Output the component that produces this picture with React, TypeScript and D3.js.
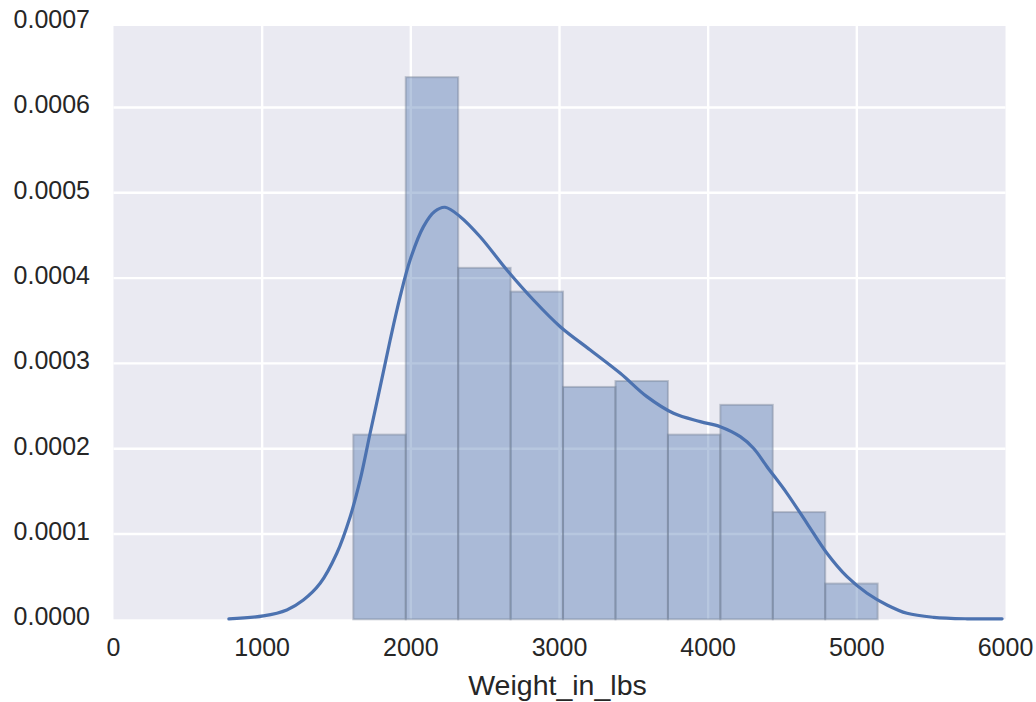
import React from "react";
import * as d3 from "d3";

// Histogram bin edges (lbs) and density heights
const binEdges = [1613, 1965.7, 2318.4, 2671.1, 3023.8, 3376.5, 3729.2, 4081.9, 4434.6, 4787.3, 5140];
const binDensity = [0.0002165, 0.0006355, 0.000412, 0.0003841, 0.0002724, 0.0002793, 0.0002165, 0.0002514, 0.0001257, 0.0000419];

// KDE curve
const kdeX = [776, 1008, 1166, 1277, 1390, 1502, 1592, 1659, 1726, 1794, 1861, 1928, 1995, 2085, 2160, 2230, 2332, 2466, 2646, 2825, 3005, 3207, 3409, 3588, 3767, 3947, 4081, 4216, 4305, 4396, 4530, 4665, 4799, 4934, 5069, 5203, 5338, 5517, 5742, 5977];
const kdeY = [0, 0.000004, 0.000011, 0.0000226, 0.0000422, 0.0000774, 0.0001203, 0.0001633, 0.0002181, 0.0002727, 0.0003274, 0.0003782, 0.0004212, 0.0004603, 0.000478, 0.000483, 0.000472, 0.0004485, 0.0004095, 0.0003743, 0.000343, 0.0003157, 0.0002884, 0.000261, 0.0002415, 0.0002317, 0.0002258, 0.0002141, 0.0002005, 0.0001789, 0.0001477, 0.0001125, 0.0000774, 0.0000499, 0.0000305, 0.0000168, 0.000007, 0.0000023, 0.0000005, 0];

const xTicks = [0, 1000, 2000, 3000, 4000, 5000, 6000];
const yTicks = [0, 0.0001, 0.0002, 0.0003, 0.0004, 0.0005, 0.0006, 0.0007];
const xLabel = "Weight_in_lbs";

const W = 1036;
const H = 702;
const left = 113.5;
const right = 1005.5;
const top = 26;
const bottom = 619.3;
const yMax = 0.0006955;

const BLUE = "#4c72b0";
const FONT = "'Liberation Sans', Arial, Helvetica, sans-serif";

export default function App() {
  const x = d3.scaleLinear().domain([0, 6000]).range([left, right]);
  const y = d3.scaleLinear().domain([0, yMax]).range([bottom, top]);

  const kdePts: [number, number][] = kdeX.map((v, i) => [v, kdeY[i]]);
  const line = d3
    .line<[number, number]>()
    .x((d) => x(d[0]))
    .y((d) => Math.min(y(d[1]), bottom - 0.5))
    .curve(d3.curveCatmullRom.alpha(0.5));

  return (
    <svg
      width={W}
      height={H}
      style={{ position: "absolute", left: 0, top: 0, background: "#fff" }}
      fontFamily={FONT}
    >
      <rect x={left} y={top} width={right - left} height={bottom - top} fill="#eaeaf2" />
      {/* grid */}
      {xTicks
        .filter((t) => t > 0 && t < 6000)
        .map((t) => (
          <line key={"gx" + t} x1={x(t)} x2={x(t)} y1={top} y2={bottom} stroke="#fff" strokeWidth={2.4} />
        ))}
      {yTicks
        .filter((t) => t > 0 && t < yMax)
        .map((t) => (
          <line key={"gy" + t} x1={left} x2={right} y1={y(t)} y2={y(t)} stroke="#fff" strokeWidth={2.4} />
        ))}
      {/* histogram */}
      {binDensity.map((d, i) => (
        <rect
          key={"b" + i}
          x={x(binEdges[i])}
          y={y(d)}
          width={x(binEdges[i + 1]) - x(binEdges[i])}
          height={y(0) - y(d)}
          fill={BLUE}
          fillOpacity={0.4}
          stroke="#6f7a8f"
          strokeOpacity={0.4}
          strokeWidth={2}
        />
      ))}
      {/* kde */}
      <path d={line(kdePts) || ""} fill="none" stroke={BLUE} strokeWidth={3.2} strokeLinecap="round" strokeLinejoin="round" />
      {/* y tick labels */}
      {yTicks.map((t) => (
        <text
          key={"ty" + t}
          x={90}
          y={y(t) - 3}
          textAnchor="end"
          dominantBaseline="central"
          fontSize={25}
          fill="#262626"
        >
          {t.toFixed(4)}
        </text>
      ))}
      {/* x tick labels */}
      {xTicks.map((t) => (
        <text key={"tx" + t} x={x(t)} y={656} textAnchor="middle" fontSize={25} fill="#262626">
          {t}
        </text>
      ))}
      <text x={(left + right) / 2 - 2} y={695} textAnchor="middle" fontSize={28.5} fill="#262626">
        {xLabel}
      </text>
    </svg>
  );
}
